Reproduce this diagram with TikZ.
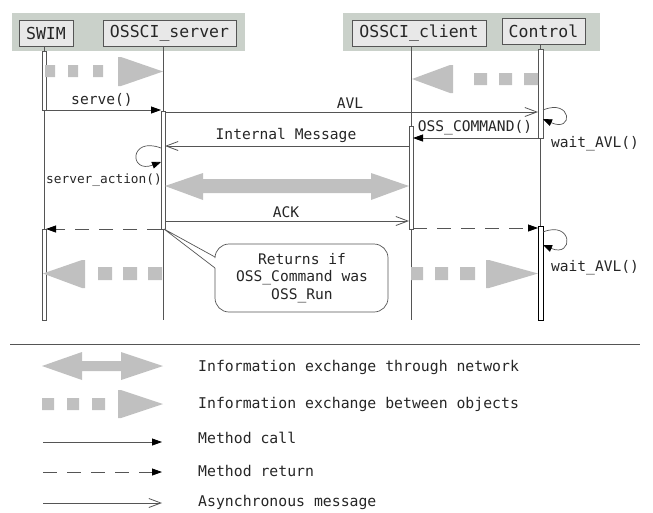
\documentclass[tikz,border=0pt]{standalone}
\usepackage{fontspec}
\setmonofont{DejaVu Sans Mono}
\usetikzlibrary{arrows.meta}
\definecolor{band}{RGB}{202,209,202}
\definecolor{boxfill}{RGB}{232,232,232}
\definecolor{infogray}{RGB}{192,192,192}
\definecolor{lin}{RGB}{85,85,85}
\tikzset{
  hdr/.style={draw=lin, fill=boxfill, line width=0.8pt, minimum height=26pt, inner sep=0pt,
    font=\ttfamily\fontsize{16.5}{18}\selectfont, text=black!85},
  lbl/.style={font=\ttfamily\fontsize{14.6}{16}\selectfont, inner sep=0pt, text=black!85},
  leglbl/.style={font=\ttfamily\fontsize{14.8}{16}\selectfont, inner sep=0pt, text=black!85},
  smalllbl/.style={font=\ttfamily\fontsize{12.8}{15}\selectfont, inner sep=0pt, text=black!85},
  life/.style={draw=lin, line width=0.8pt},
  actbar/.style={draw=lin, fill=white, line width=0.8pt},
  callarr/.style={draw=lin, line width=0.8pt, -{Triangle[length=10pt,width=7pt,fill=black,color=black]}},
  retarr/.style={callarr, dash pattern=on 14pt off 10pt},
  asyncarr/.style={draw=lin, line width=0.8pt, -{Straight Barb[length=12pt,width=9pt,line width=0.8pt]}},
  loopa/.style={draw=lin, line width=0.7pt, -{Triangle[length=9pt,width=7pt,fill=black,color=black]}},
}
\begin{document}
\begin{tikzpicture}[x=1pt,y=-1pt]
\useasboundingbox (0,0) rectangle (653,512);
% header bands
\fill[band] (12,13) rectangle (245,51);
\fill[band] (343,13) rectangle (600,51);
% lifelines
\draw[life] (44,46) -- (44,320);
\draw[life] (163,46) -- (163,320);
\draw[life] (411,46) -- (411,320);
\draw[life] (540,44) -- (540,320);
% header boxes
\node[hdr, minimum width=54pt] (swim) at (46,33) {SWIM};
\node[hdr, minimum width=133pt] (server) at (169.5,33) {OSSCI\_server};
\node[hdr, minimum width=134pt] (client) at (419,33) {OSSCI\_client};
\node[hdr, minimum width=83pt] (control) at (543.5,31) {Control};
% activation bars
\draw[actbar] (42,51) rectangle (46,110);
\draw[actbar] (42,229) rectangle (46,320);
\draw[actbar] (161,111) rectangle (165,229);
\draw[actbar] (409,126) rectangle (413,229);
\draw[actbar] (538,49) rectangle (543,138);
\draw[draw=black, fill=white, line width=1pt] (538,226) rectangle (543,320);
% info exchange between objects (dotted gray arrows)
\fill[infogray] (45,65) rectangle (55,77) (68,65) rectangle (78,77) (93,65) rectangle (103,77);
\fill[infogray] (118,57) -- (121,57) -- (163,71.5) -- (121,86) -- (118,86) -- cycle;
\fill[infogray] (474,73) rectangle (487,85) (499,73) rectangle (512,85) (524,73) rectangle (538,85);
\fill[infogray] (412,79) -- (450,65) -- (453,65) -- (453,93) -- (450,93) -- cycle;
\fill[infogray] (98,267) rectangle (112,280) (123,267) rectangle (137,280) (148,267) rectangle (162,280);
\fill[infogray] (43,273.5) -- (82,260) -- (85,260) -- (85,288) -- (82,288) -- cycle;
\fill[infogray] (411,267) rectangle (423,280) (435,267) rectangle (448,280) (460,267) rectangle (475,280);
\fill[infogray] (486,260) -- (489,260) -- (538,273.5) -- (489,288) -- (486,288) -- cycle;
% network double arrow
\fill[infogray] (165,186) -- (203,173) -- (203,179) -- (371,179) -- (371,173) -- (409,186)
  -- (371,200) -- (371,193) -- (203,193) -- (203,200) -- cycle;
% messages
\coordinate (s1) at (44,110); \coordinate (v1) at (161,110);
\draw[callarr] (s1) -- (v1);
\node[lbl, anchor=south] (serve) at (102,107) {serve()};
\coordinate (v2) at (165,112); \coordinate (c2) at (538,112);
\draw[asyncarr] (v2) -- (c2);
\node[lbl, anchor=south] (avl) at (350,109) {AVL};
\coordinate (c3) at (543,138); \coordinate (k3) at (413,138);
\draw[callarr] (c3) -- (k3);
\node[lbl, anchor=south] (osscmd) at (475,135) {OSS\_COMMAND()};
\coordinate (k4) at (409,146); \coordinate (v4) at (165,146);
\draw[asyncarr] (k4) -- (v4);
\node[lbl, anchor=south] (intmsg) at (286,143) {Internal Message};
\coordinate (v5) at (165,221); \coordinate (k5) at (409,221);
\draw[asyncarr] (v5) -- (k5);
\node[lbl, anchor=south] (ack) at (286,218) {ACK};
\coordinate (v6) at (161,229); \coordinate (s6) at (46,229);
\draw[retarr] (v6) -- (s6);
\coordinate (k7) at (413,228); \coordinate (c7) at (538,228);
\draw[retarr] (k7) -- (c7);
% self loops
\coordinate (cl1a) at (543,110); \coordinate (cl1b) at (543,119);
\draw[loopa] (cl1a) .. controls (572,98) and (574,133) .. (cl1b);
\node[lbl] (wait1) at (595,144) {wait\_AVL()};
\coordinate (sl1a) at (161,148); \coordinate (sl1b) at (161,162);
\draw[loopa] (sl1a) .. controls (129,136) and (129,174) .. (sl1b);
\node[smalllbl] (sact) at (104,180) {server\_action()};
\coordinate (cl2a) at (543,232); \coordinate (cl2b) at (543,245);
\draw[loopa] (cl2a) .. controls (573,220) and (574,258) .. (cl2b);
\node[lbl] (wait2) at (595,268) {wait\_AVL()};
% callout note
\coordinate (notetip) at (164,229);
\fill[white] (215,257) -- (notetip) -- (215,268) -- cycle;
\draw[lin, line width=0.7pt, rounded corners=14pt, fill=white] (215,257) |- (388,244) |- (215,312) -- (215,268);
\draw[lin, line width=0.7pt] (215,257) -- (notetip) -- (215,268);
\node[lbl, align=center] (note) at (302,278) {Returns if\\[1.5pt]OSS\_Command was\\[1.5pt]OSS\_Run};
% legend
\draw[draw=lin, line width=0.8pt] (10,344) -- (640,344);
\fill[infogray] (42,366) -- (82,352) -- (82,361) -- (121,361) -- (121,352) -- (163,366)
  -- (121,380) -- (121,371) -- (82,371) -- (82,380) -- cycle;
\fill[infogray] (42,398) rectangle (54,410) (67,398) rectangle (79,410) (92,398) rectangle (105,410);
\fill[infogray] (118,390) -- (121,390) -- (163,404) -- (121,418) -- (118,418) -- cycle;
\coordinate (lg1a) at (43,442); \coordinate (lg1b) at (162,442);
\draw[callarr] (lg1a) -- (lg1b);
\coordinate (lg2a) at (43,472); \coordinate (lg2b) at (162,472);
\draw[retarr] (lg2a) -- (lg2b);
\coordinate (lg3a) at (43,503); \coordinate (lg3b) at (162,503);
\draw[asyncarr] (lg3a) -- (lg3b);
\node[leglbl, anchor=west] (t1) at (198,367) {Information exchange through network};
\node[leglbl, anchor=west] (t2) at (198,404) {Information exchange between objects};
\node[leglbl, anchor=west] (t3) at (198,438) {Method call};
\node[leglbl, anchor=west] (t4) at (198,471) {Method return};
\node[leglbl, anchor=west] (t5) at (198,502) {Asynchronous message};
\end{tikzpicture}
\end{document}
